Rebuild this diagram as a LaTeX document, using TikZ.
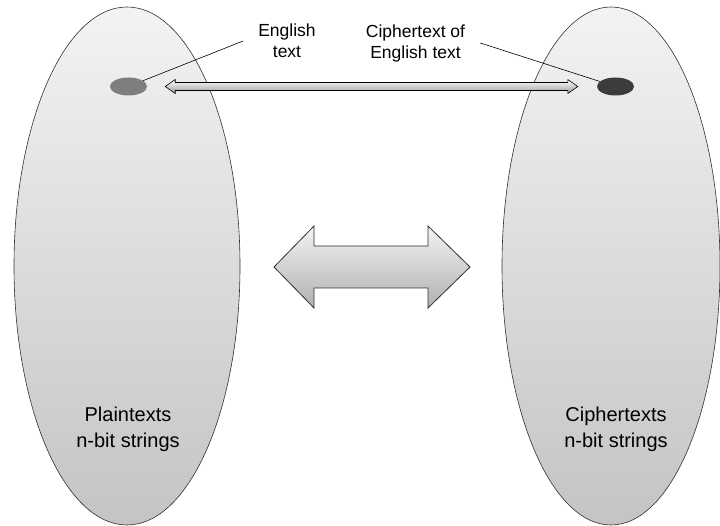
\documentclass[tikz,border=0pt]{standalone}
\usepackage{fontspec}
\setmainfont{Liberation Sans}
\usetikzlibrary{shapes.geometric,calc}
\definecolor{setline}{HTML}{303030}
\definecolor{settop}{HTML}{F3F3F3}
\definecolor{setbot}{HTML}{C4C4C4}
\definecolor{plaindot}{HTML}{7E7E7E}
\definecolor{cipherdot}{HTML}{3C3C3C}

\begin{document}
\begin{tikzpicture}[x=1pt,y=-1pt,
	textset/.style={ellipse, draw=setline, line width=.6pt, inner sep=0pt,
		top color=settop, bottom color=setbot, minimum height=518pt},
	dot/.style={ellipse, inner sep=0pt, minimum width=37pt, minimum height=18pt},
	setlabel/.style={align=center, inner sep=0pt, font=\fontsize{20}{26}\selectfont},
	toplabel/.style={align=center, inner ysep=0pt, inner xsep=15pt, font=\fontsize{17.5}{21}\selectfont},
	arrowbody/.style={draw=black, line width=.6pt, top color=white, bottom color=setbot!80!black}]
	\useasboundingbox (0,0) rectangle (720,526);
	\node[textset, minimum width=226pt] (plain) at (127,266) {};
	\node[textset, minimum width=218pt] (cipher) at (611,266) {};
	\node[setlabel] (plainlbl) at (128,429) {Plaintexts\\n-bit strings};
	\node[setlabel] (cipherlbl) at (616,429) {Ciphertexts\\n-bit strings};
	\node[dot, fill=plaindot] (ptdot) at (128.5,86.5) {};
	\node[dot, fill=cipherdot] (ctdot) at (615.5,86.5) {};
	\node[toplabel] (etext) at (287,41) {English\\text};
	\node[toplabel] (ctext) at (415.5,43) {Ciphertext of\\English text};
	\draw[line width=.6pt] (etext.west) -- (ptdot);
	\draw[line width=.6pt] (ctext.east) -- (ctdot);
	\coordinate (la) at ([xshift=18pt]ptdot.east);
	\coordinate (ra) at ([xshift=-19pt]ctdot.west);
	\draw[arrowbody] let \p1=(la), \p2=(ra) in
		(\x1,\y1) -- (\x1+10pt,\y1+7pt) -- (\x1+10pt,\y1+4pt) -- (\x2-10pt,\y2+4pt)
		-- (\x2-10pt,\y2+7pt) -- (\x2,\y2) -- (\x2-10pt,\y2-7pt) -- (\x2-10pt,\y2-4pt)
		-- (\x1+10pt,\y1-4pt) -- (\x1+10pt,\y1-7pt) -- cycle;
	\draw[draw=setline, line width=.8pt, top color=settop, bottom color=setbot!90!black]
		(274,267) -- (314,226) -- (314,246) -- (428,246) -- (428,226) -- (470,267)
		-- (428,308) -- (428,288) -- (314,288) -- (314,308) -- cycle;
\end{tikzpicture}
\end{document}
